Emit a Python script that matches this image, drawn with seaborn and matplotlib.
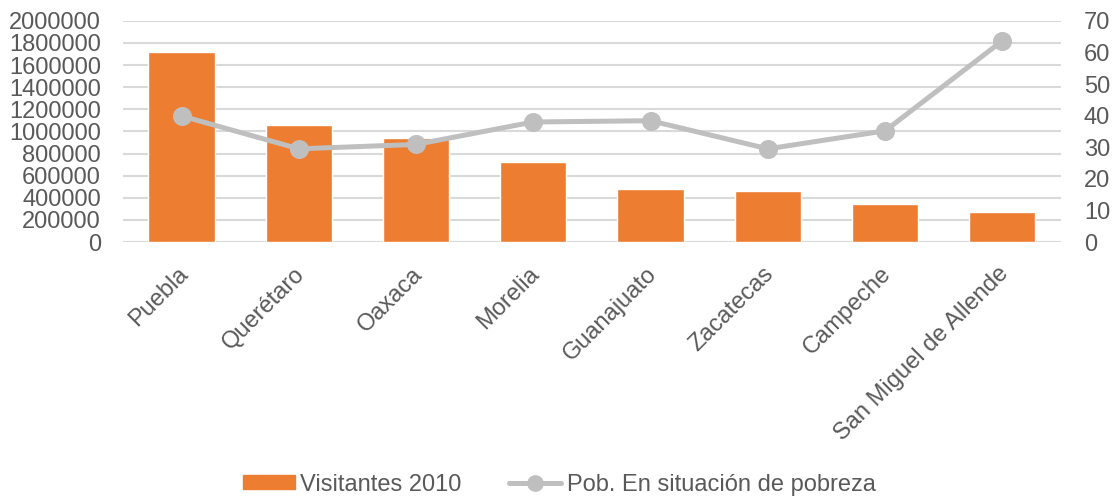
import numpy as np
import matplotlib
matplotlib.use('Agg')
import matplotlib.pyplot as plt
import matplotlib.transforms as mtransforms
import seaborn as sns
from matplotlib.lines import Line2D
from matplotlib.patches import Patch

# datos
ciudades = ['Puebla', 'Querétaro', 'Oaxaca', 'Morelia', 'Guanajuato',
            'Zacatecas', 'Campeche', 'San Miguel de Allende']
visitantes = [1720000, 1060000, 944000, 721000, 480000, 464000, 347000, 271000]
pobreza = [39.9, 29.5, 30.9, 38.0, 38.4, 29.5, 35.2, 63.7]

naranja = '#ED7D31'
gris = '#BFBFBF'
texto = '#595959'

sns.set_theme(style='white')
plt.rcParams['font.family'] = ['Liberation Sans', 'DejaVu Sans']
plt.rcParams['font.size'] = 17

fig = plt.figure(figsize=(11.14, 4.97), dpi=100)
ax = fig.add_axes([0.1104, 0.513, 0.842, 0.445])

# barras (eje izquierdo)
sns.barplot(x=ciudades, y=visitantes, color=naranja, saturation=1,
            width=0.565, ax=ax, zorder=2)
ax.set_xlim(-0.5, len(ciudades) - 0.5)
ax.set_ylim(0, 2000000)
ax.set_yticks(np.arange(0, 2000001, 200000))
ax.set_yticklabels([str(v) for v in range(0, 2000001, 200000)])
ax.yaxis.grid(True, color='#D9D9D9', linewidth=1.5, zorder=0)
ax.set_axisbelow(True)
ax.tick_params(axis='y', length=0, pad=16, labelcolor=texto, labelsize=17)
ax.tick_params(axis='x', length=0, pad=15, labelcolor=texto, labelsize=17)
# etiquetas giradas, un poco a la izquierda como en excel
desplaza = mtransforms.ScaledTranslation(-0.05, 0, fig.dpi_scale_trans)
for lbl in ax.get_xticklabels():
    lbl.set_rotation(45)
    lbl.set_ha('right')
    lbl.set_rotation_mode('anchor')
    lbl.set_transform(lbl.get_transform() + desplaza)
ax.set_xlabel('')
ax.set_ylabel('')
for s in ax.spines.values():
    s.set_visible(False)

# linea (eje derecho)
ax2 = ax.twinx()
sns.pointplot(x=ciudades, y=pobreza, color=gris, markers='o',
              markersize=11, linewidth=3.6, ax=ax2)
ax2.set_ylim(0, 70)
ax2.set_yticks(np.arange(0, 71, 10))
ax2.tick_params(axis='y', length=0, pad=16.5, labelcolor=texto, labelsize=17)
ax2.set_ylabel('')
ax2.set_xlim(ax.get_xlim())
for s in ax2.spines.values():
    s.set_visible(False)

handles = [Patch(color=naranja),
           Line2D([0], [0], color=gris, lw=3.6, marker='o', markersize=11)]
fig.legend(handles, ['Visitantes 2010', 'Pob. En situación de pobreza'],
           loc='center', bbox_to_anchor=(0.502, 0.025), ncol=2, frameon=False,
           fontsize=17, labelcolor=texto, handlelength=2.2, handleheight=0.55,
           handletextpad=0.25, columnspacing=2.0)

fig.savefig('out.png', dpi=100)
